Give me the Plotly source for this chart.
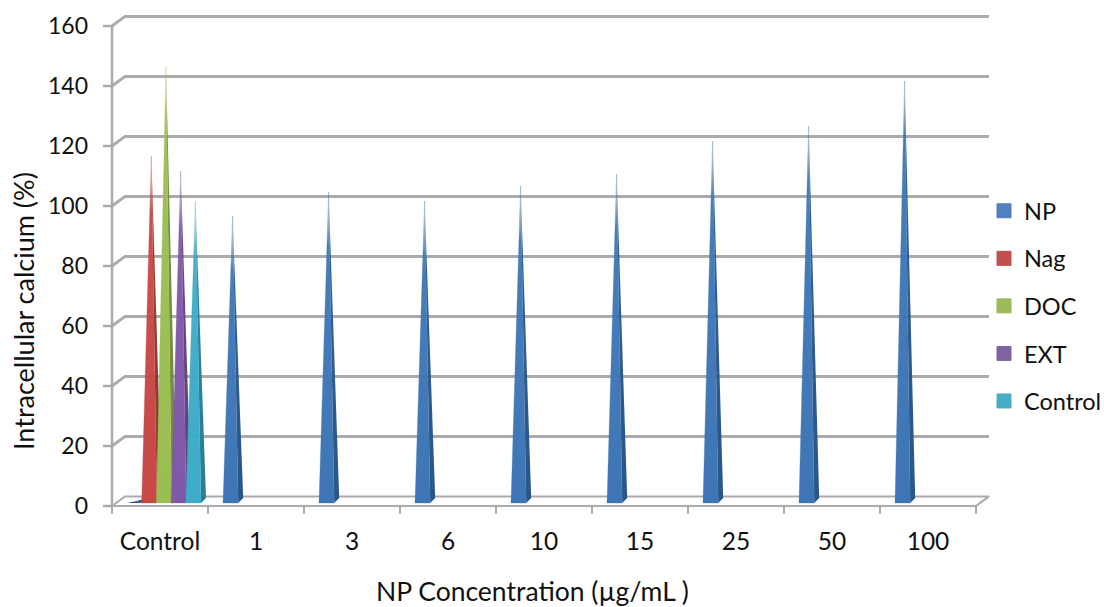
import plotly.graph_objects as go

categories = ["Control", "1", "3", "6", "10", "15", "25", "50", "100"]
np_values = [0, 95, 103, 100, 105, 109, 120, 125, 140]
nag_values = [115, None, None, None, None, None, None, None, None]
doc_values = [145, None, None, None, None, None, None, None, None]
ext_values = [110, None, None, None, None, None, None, None, None]
control_values = [100, None, None, None, None, None, None, None, None]
y_ticks = [0, 20, 40, 60, 80, 100, 120, 140, 160]
series_names = ["NP", "Nag", "DOC", "EXT", "Control"]
series_data = [np_values, nag_values, doc_values, ext_values, control_values]
colors = ["#4F81BD", "#C0504D", "#9BBB59", "#8064A2", "#4BACC6"]
fronts = [(62, 118, 181), (200, 72, 70), (155, 190, 82), (128, 88, 170), (62, 172, 200)]
sides = [(42, 86, 136), (140, 56, 52), (112, 140, 60), (92, 66, 124), (40, 125, 150)]

PX_X = 96.0   # pixels per category
PX_Y = 3.0    # pixels per percent
DX = 13 / PX_X
DY = 9.6 / PX_Y
GRID = "#ABABAB"
FONT = "Lato"
TXT = "#111111"
LEFT, RIGHT, TOP, BOTTOM = 100, 105, 6, 91
W, H = 1104 - LEFT - RIGHT, 607 - TOP - BOTTOM

fig = go.Figure()


def line(xs, ys, width, color=GRID):
    fig.add_trace(go.Scatter(x=xs, y=ys, mode="lines", showlegend=False, hoverinfo="skip",
                             line=dict(color=color, width=width)))


x0, x1 = -0.5, len(categories) - 0.5
for v in y_ticks[1:]:
    line([x0, x0 + DX, x1 + DX], [v, v + DY, v + DY], 3)
line([x0, x0 + DX, x1 + DX, x1, x0], [0, DY, DY, 0, 0], 2)
line([x0, x0], [0, y_ticks[-1]], 2.5)
for v in y_ticks:
    line([x0 - 9 / PX_X, x0], [v, v], 2.5)
for i in range(len(categories) + 1):
    line([x0 + i, x0 + i], [0, -8 / PX_Y], 2)


def rgba(c, a):
    return f"rgba({c[0]},{c[1]},{c[2]},{a})"


def face(xs, ys, col, hgt, name, value, edge):
    if value == 0:
        scale = [[0, rgba(col, 1)], [1, rgba(col, 1)]]
    else:
        stop = min(0.9, 55 / hgt)
        scale = [[0, rgba(col, 1)], [1 - stop, rgba(col, 0.95)], [1, rgba(col, 0.0)]]
    fig.add_trace(go.Scatter(
        x=xs, y=ys, mode="lines", fill="toself", showlegend=False, legendgroup=name,
        name=name, text=f"{name}: {value}", hoverinfo="text",
        line=dict(color=edge, width=1),
        fillgradient=dict(type="vertical", colorscale=scale),
    ))


slot = 14.7 / PX_X
half = 7.6 / PX_X
shift = 6 / PX_X
for s, (name, vals) in enumerate(zip(series_names, series_data)):
    for i, v in enumerate(vals):
        if v is None:
            continue
        cx = i + shift + (s - 2) * slot
        tip_y = v + 5 / PX_Y
        base = 1.0
        back = base + 5 / PX_Y
        left, right = cx - half - 2 / PX_X, cx + half - 2 / PX_X
        hgt = v * PX_Y
        face([right, right + 5 / PX_X, cx, right], [base, back, tip_y, base], sides[s], hgt, name, v, "rgba(0,0,0,0)")
        face([left, right, cx, left], [base, base, tip_y, base], sides[s] if v == 0 else fronts[s], hgt, name, v,
             "rgba(0,0,0,0)" if v == 0 else rgba(fronts[s], 0.3))

for name, col in zip(series_names, colors):
    fig.add_trace(go.Scatter(x=[None], y=[None], mode="markers", name=name, legendgroup=name,
                             marker=dict(symbol="square", size=14, color=col, line=dict(color=col, width=1))))

start = x0 - 12 / PX_X
fig.update_layout(
    width=1104, height=607,
    margin=dict(l=LEFT, r=RIGHT, t=TOP, b=BOTTOM, pad=0, autoexpand=False),
    paper_bgcolor="white", plot_bgcolor="white",
    font=dict(family=FONT, size=24, color=TXT),
    xaxis=dict(range=[start, start + W / PX_X], tickmode="array", tickvals=list(range(len(categories))),
               ticktext=categories, ticks="", showgrid=False, zeroline=False, showline=False,
               ticklabelstandoff=8, tickfont=dict(size=24.5, family=FONT, color=TXT)),
    yaxis=dict(range=[-10 / PX_Y, -10 / PX_Y + H / PX_Y], tickmode="array", tickvals=y_ticks, ticks="",
               showgrid=False, zeroline=False, showline=False,
               ticklabelstandoff=11, tickfont=dict(size=23, family=FONT, color=TXT)),
    legend=dict(x=(984 - LEFT) / W, xanchor="left", y=(516 - 189) / H, yanchor="top",
                tracegroupgap=14, itemsizing="trace", bgcolor="rgba(0,0,0,0)",
                font=dict(family=FONT, size=23.5, color=TXT)),
    annotations=[
        dict(text="Intracellular calcium (%)", xref="paper", yref="paper", x=(23 - LEFT) / W, y=(516 - 311) / H,
             textangle=-90, showarrow=False, xanchor="center", yanchor="middle", font=dict(size=27, family=FONT, color=TXT)),
        dict(text="NP Concentration (µg/mL )", xref="paper", yref="paper", x=(532 - LEFT) / W, y=(516 - 591) / H,
             showarrow=False, xanchor="center", yanchor="middle", font=dict(size=26.5, family=FONT, color=TXT)),
    ],
)
fig.write_html("out.html", config=dict(displayModeBar=False),
               post_script="document.body.style.margin='0';document.documentElement.style.overflow='hidden';")
